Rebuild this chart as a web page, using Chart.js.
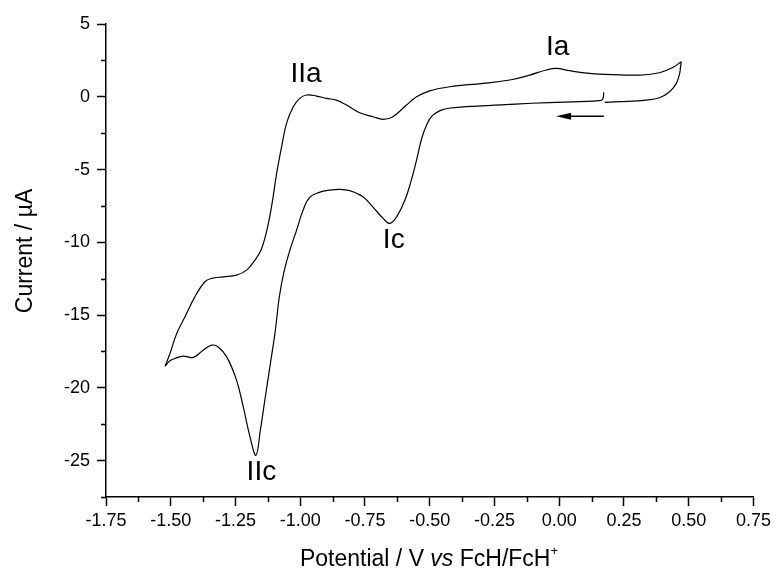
<!DOCTYPE html>
<html>
<head>
<meta charset="utf-8">
<style>
  html, body { margin: 0; padding: 0; background: #ffffff; }
  #wrap { width: 775px; height: 573px; }
</style>
<script src="https://cdn.jsdelivr.net/npm/chart.js@4/dist/chart.umd.min.js"></script>
</head>
<body>
<div id="wrap"><canvas id="cv" width="775" height="573"></canvas></div>
<script>
// Axis ticks (potential in V vs FcH/FcH+, current in µA)
const xTicks = [-1.75, -1.5, -1.25, -1.0, -0.75, -0.5, -0.25, 0.0, 0.25, 0.5, 0.75];
const xMinor = [-1.625, -1.375, -1.125, -0.875, -0.625, -0.375, -0.125, 0.125, 0.375, 0.625];
const yTicks = [5, 0, -5, -10, -15, -20, -25];
const yMinor = [2.5, -2.5, -7.5, -12.5, -17.5, -22.5, -27.5];

// Cathodic sweep: from the start potential down to the negative switching potential
const cathodicV = [0.172, 0.168, 0.155, 0.08, -0.04, -0.17, -0.30, -0.42, -0.46, -0.49, -0.51, -0.53,
  -0.551, -0.571, -0.596, -0.628, -0.654, -0.681, -0.720, -0.758, -0.809, -0.847, -0.890, -0.924,
  -0.963, -0.989, -1.014, -1.040, -1.063, -1.081, -1.096, -1.115, -1.135, -1.154, -1.171, -1.194,
  -1.220, -1.246, -1.284, -1.318, -1.342, -1.375, -1.413, -1.452, -1.484, -1.503, -1.522];
const cathodicI = [0.30, -0.15, -0.27, -0.33, -0.40, -0.50, -0.62, -0.77, -0.95, -1.30, -1.85, -2.80,
  -4.35, -5.73, -7.11, -8.25, -8.70, -8.34, -7.56, -6.87, -6.45, -6.36, -6.42, -6.55,
  -6.90, -7.79, -9.16, -10.54, -12.05, -13.77, -16.03, -18.30, -20.64, -22.91, -24.63, -23.37,
  -21.31, -19.47, -17.87, -17.17, -17.07, -17.41, -17.91, -17.82, -17.98, -18.14, -18.51];

// Anodic sweep: back up to the positive switching potential
const anodicV = [-1.522, -1.503, -1.477, -1.445, -1.407, -1.368, -1.342, -1.297, -1.246, -1.207, -1.175,
  -1.152, -1.130, -1.111, -1.091, -1.072, -1.053, -1.027, -1.002, -0.976, -0.937, -0.899, -0.860,
  -0.821, -0.770, -0.719, -0.680, -0.642, -0.590, -0.551, -0.500, -0.423, -0.294, -0.191, -0.114,
  -0.050, -0.011, 0.040, 0.117, 0.207, 0.310, 0.387, 0.439, 0.471];
const anodicI = [-18.51, -17.64, -16.26, -15.12, -13.75, -12.71, -12.48, -12.37, -12.25, -11.91, -11.22,
  -10.55, -9.25, -7.56, -5.26, -3.44, -1.83, -0.69, -0.11, 0.12, 0.05, -0.11, -0.23,
  -0.57, -1.10, -1.37, -1.55, -1.37, -0.57, 0.0, 0.41, 0.69, 0.92, 1.15, 1.49,
  1.84, 1.95, 1.79, 1.61, 1.52, 1.49, 1.65, 2.02, 2.41];

// Final return to the start potential
const returnV = [0.471, 0.468, 0.465, 0.452, 0.426, 0.387, 0.336, 0.233, 0.175];
const returnI = [2.41, 2.00, 1.61, 0.92, 0.34, -0.07, -0.23, -0.34, -0.38];

// Peak labels, anchored (centre, baseline) in data units
const peakNames = ['Ia', 'IIa', 'Ic', 'IIc'];
const peakLabelV = [-0.006, -0.978, -0.639, -1.150];
const peakLabelI = [2.87, 1.01, -10.40, -26.34];

// Scan direction arrow (tail potential, head potential, current)
const arrowV = [0.172, -0.012];
const arrowI = -1.33;

const FONT = "'Liberation Sans', Arial, Helvetica, sans-serif";
const toPoints = (vs, is) => vs.map((v, i) => ({ x: v, y: is[i] }));

const lineStyle = {
  borderColor: '#000000',
  borderWidth: 1.2,
  pointRadius: 0,
  fill: false,
  tension: 0.4,
  showLine: true
};

// Minor tick marks on both axes
const minorTickPlugin = {
  id: 'minorTicks',
  afterDraw(chart) {
    const { ctx, chartArea } = chart;
    const xs = chart.scales.x, ys = chart.scales.y;
    ctx.save();
    ctx.strokeStyle = '#000000';
    ctx.lineWidth = 1.5;
    ctx.beginPath();
    xMinor.forEach(v => {
      const px = Math.round(xs.getPixelForValue(v)) + 0.5;
      ctx.moveTo(px, chartArea.bottom);
      ctx.lineTo(px, chartArea.bottom + 5);
    });
    yMinor.forEach(v => {
      const py = Math.round(ys.getPixelForValue(v)) + 0.5;
      ctx.moveTo(chartArea.left, py);
      ctx.lineTo(chartArea.left - 5, py);
    });
    ctx.stroke();
    ctx.restore();
  }
};

// Peak labels and the scan-direction arrow
const annotationPlugin = {
  id: 'cvAnnotations',
  afterDatasetsDraw(chart) {
    const { ctx } = chart;
    const xs = chart.scales.x, ys = chart.scales.y;
    ctx.save();
    ctx.fillStyle = '#000000';
    ctx.font = `28px ${FONT}`;
    ctx.textAlign = 'center';
    ctx.textBaseline = 'alphabetic';
    peakNames.forEach((name, i) => {
      ctx.fillText(name, xs.getPixelForValue(peakLabelV[i]), ys.getPixelForValue(peakLabelI[i]));
    });

    const x0 = xs.getPixelForValue(arrowV[0]);
    const x1 = xs.getPixelForValue(arrowV[1]);
    const ay = ys.getPixelForValue(arrowI);
    ctx.strokeStyle = '#000000';
    ctx.lineWidth = 1.5;
    ctx.beginPath();
    ctx.moveTo(x0, ay);
    ctx.lineTo(x1 + 10, ay);
    ctx.stroke();
    ctx.beginPath();
    ctx.moveTo(x1, ay);
    ctx.lineTo(x1 + 15, ay - 3.5);
    ctx.lineTo(x1 + 15, ay + 3.5);
    ctx.closePath();
    ctx.fill();
    ctx.restore();
  }
};

// Axis titles (the x title mixes italic text and a superscript)
const axisTitlePlugin = {
  id: 'axisTitles',
  afterDraw(chart) {
    const { ctx, chartArea } = chart;
    ctx.save();
    ctx.fillStyle = '#000000';
    ctx.textBaseline = 'alphabetic';

    // y title
    ctx.font = `23px ${FONT}`;
    ctx.textAlign = 'center';
    ctx.translate(32, 251);
    ctx.rotate(-Math.PI / 2);
    ctx.fillText('Current / µA', 0, 0);
    ctx.setTransform(1, 0, 0, 1, 0, 0);

    // x title
    const parts = [
      { t: 'Potential / V ', f: `23px ${FONT}`, dy: 0 },
      { t: 'vs', f: `italic 23px ${FONT}`, dy: 0 },
      { t: ' FcH/FcH', f: `23px ${FONT}`, dy: 0 },
      { t: '+', f: `13px ${FONT}`, dy: -11 }
    ];
    let total = 0;
    parts.forEach(p => { ctx.font = p.f; p.w = ctx.measureText(p.t).width; total += p.w; });
    let x = 429 - total / 2;
    const base = 566;
    ctx.textAlign = 'left';
    parts.forEach(p => {
      ctx.font = p.f;
      ctx.fillText(p.t, x, base + p.dy);
      x += p.w;
    });
    ctx.restore();
  }
};

new Chart(document.getElementById('cv'), {
  type: 'scatter',
  data: {
    datasets: [
      { ...lineStyle, data: toPoints(cathodicV, cathodicI) },
      { ...lineStyle, data: toPoints(anodicV, anodicI) },
      { ...lineStyle, data: toPoints(returnV, returnI) }
    ]
  },
  options: {
    responsive: false,
    animation: false,
    devicePixelRatio: 1,
    layout: { padding: { top: 24, right: 21, left: 0, bottom: 0 } },
    plugins: { legend: { display: false }, tooltip: { enabled: false } },
    scales: {
      x: {
        type: 'linear',
        min: -1.75,
        max: 0.75,
        afterBuildTicks: s => { s.ticks = xTicks.map(v => ({ value: v })); },
        afterFit: s => { s.height = 76; },
        grid: { drawOnChartArea: false, drawTicks: true, tickLength: 9, tickWidth: 1.5, tickColor: '#000000' },
        border: { display: true, color: '#000000', width: 1.5 },
        ticks: {
          color: '#000000',
          font: { family: FONT, size: 18 },
          padding: 4,
          maxRotation: 0,
          autoSkip: false,
          callback: v => Number(v).toFixed(2)
        }
      },
      y: {
        type: 'linear',
        min: -27.5,
        max: 5,
        afterBuildTicks: s => { s.ticks = yTicks.map(v => ({ value: v })); },
        afterFit: s => { s.width = 106; },
        grid: { drawOnChartArea: false, drawTicks: true, tickLength: 9, tickWidth: 1.5, tickColor: '#000000' },
        border: { display: true, color: '#000000', width: 1.5 },
        ticks: {
          color: '#000000',
          font: { family: FONT, size: 18 },
          padding: 7,
          autoSkip: false,
          callback: v => String(v)
        }
      }
    }
  },
  plugins: [minorTickPlugin, annotationPlugin, axisTitlePlugin]
});
</script>
</body>
</html>
